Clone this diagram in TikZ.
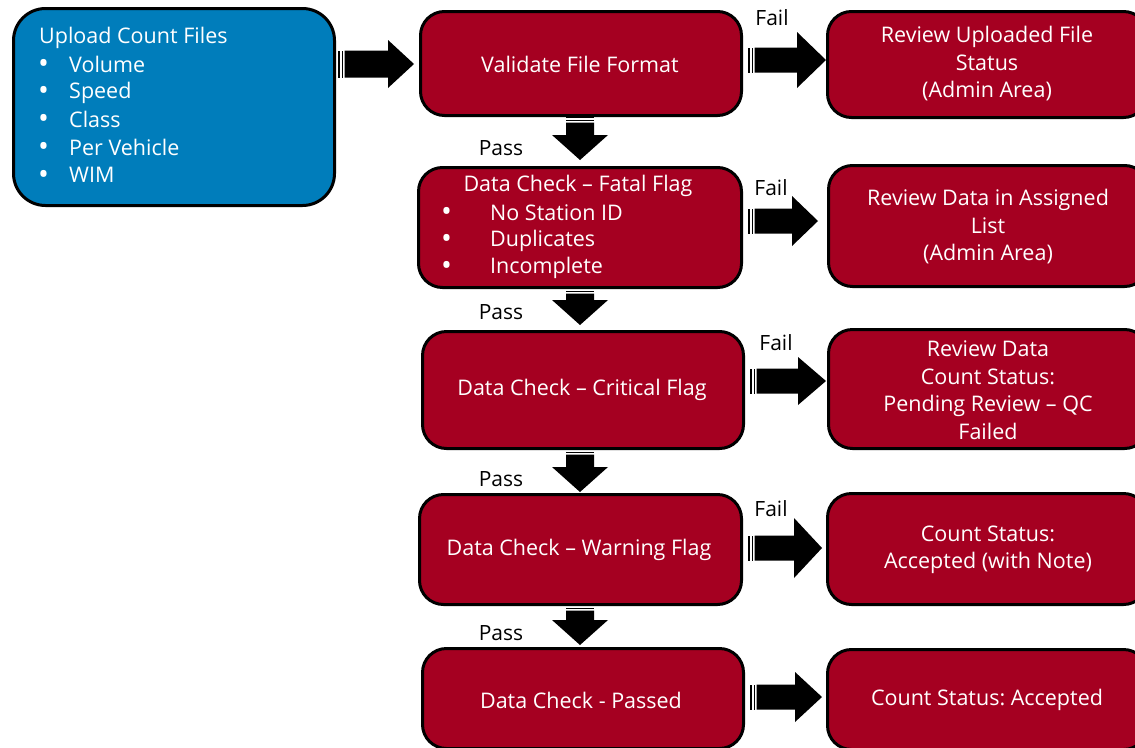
\documentclass[tikz,border=0pt]{standalone}
\usepackage{fontspec}
\setmainfont{Open Sans}
\frenchspacing
\begin{document}
\begin{tikzpicture}[x=1pt,y=-1pt,
  box/.style={draw=black,line width=3pt,rounded corners=24pt,fill=redbox,anchor=north west,inner sep=0pt},
  bluebox/.style={box,fill=bluebox,rounded corners=32pt},
  txt/.style={text=white,font=\fontsize{21.5}{27.5}\selectfont,align=center,inner sep=0pt},
  lbl/.style={text=black,font=\fontsize{21}{24}\selectfont,inner sep=0pt},
  arr/.style={fill=black,draw=none}]
\definecolor{redbox}{HTML}{A50021}
\definecolor{bluebox}{HTML}{007DBB}
\newcommand\bulitem[2]{\makebox[#1][l]{\raisebox{-1.5pt}{\fontsize{29}{29}\selectfont•}}#2}
\useasboundingbox (0,0) rectangle (1135,747);
\newcommand\rarr[6]{% x0 x1 yc shafthalf headhalf headlen
  \fill[arr] (#1,#3-#4) rectangle (#1+2,#3+#4);
  \fill[arr] (#1+3.5,#3-#4) rectangle (#1+5,#3+#4);
  \fill[arr] (#1+6.5,#3-#4) -- (#2-#6,#3-#4) -- (#2-#6,#3-#5) -- (#2,#3) -- (#2-#6,#3+#5) -- (#2-#6,#3+#4) -- (#1+6.5,#3+#4) -- cycle;}
\newcommand\darr[2]{% y0 y1, x center 580
  \fill[arr] (566,#1) rectangle (594,#1+2);
  \fill[arr] (566,#1+3.5) rectangle (594,#1+5);
  \fill[arr] (566,#1+6.5) -- (566,#2-25) -- (552,#2-25) -- (580,#2) -- (608,#2-25) -- (594,#2-25) -- (594,#1+6.5) -- cycle;}
% boxes
\node[bluebox,minimum width=321pt,minimum height=197pt] (up) at (12,7) {};
\node[box,minimum width=321pt,minimum height=104pt] (v) at (419,10) {};
\node[box,minimum width=320pt,minimum height=106pt] (rv) at (826,10) {};
\node[box,minimum width=323pt,minimum height=120pt] (f) at (417,166) {};
\node[box,minimum width=320pt,minimum height=121pt] (rf) at (827,164) {};
\node[box,minimum width=321pt,minimum height=117pt] (c) at (421,330) {};
\node[box,minimum width=320pt,minimum height=119pt] (rc) at (827,328) {};
\node[box,minimum width=322pt,minimum height=110pt] (w) at (418,493) {};
\node[box,minimum width=320pt,minimum height=111pt] (rw) at (826,492) {};
\node[box,minimum width=321pt,minimum height=100pt] (p) at (421,647) {};
\node[box,minimum width=320pt,minimum height=100pt] (rp) at (826,648) {};
% texts
\node[txt,anchor=west] (upt) at (39,38) {Upload Count Files};
\foreach \t/\yy [count=\i] in {Volume/65,Speed/93,Class/120,Per Vehicle/148,WIM/176}{
  \node[txt,anchor=west] (ut\i) at (38,\yy) {\bulitem{31pt}{\t}};}
\node[txt] (vt) at (580,64) {Validate File Format};
\node[txt] (rvt) at (987,64) {Review Uploaded File\\Status\\(Admin Area)};
\node[txt] (ft) at (578,186) {Data Check -- Fatal Flag};
\foreach \t/\yy [count=\i] in {No Station ID/213,Duplicates/241,Incomplete/268}{
  \node[txt,anchor=west] (ftt\i) at (441,\yy) {\bulitem{49pt}{\t}};}
\node[txt] (rft) at (988,227) {Review Data in Assigned\\List\\(Admin Area)};
\node[txt] (ct) at (582,390) {Data Check -- Critical Flag};
\node[txt] (rct) at (988,390) {Review Data\\Count Status:\\Pending Review -- QC\\Failed};
\node[txt] (wt) at (579,550) {Data Check -- Warning Flag};
\node[txt] (rwt) at (988,550) {Count Status:\\Accepted (with Note)};
\node[txt] (pt) at (581,700) {Data Check - Passed};
\node[txt] (rpt) at (987,700) {Count Status: Accepted};
% labels
\foreach \yy [count=\i] in {148,312,479,633}{\node[lbl] (pass\i) at (501,\yy) {Pass};}
\node[lbl] (fail1) at (772,18) {Fail};
\node[lbl] (fail2) at (771,188) {Fail};
\node[lbl] (fail3) at (776,343) {Fail};
\node[lbl] (fail4) at (771,509) {Fail};
% arrows
\rarr{338}{414}{64}{13.5}{24}{26}
\rarr{748}{826}{60}{12.5}{28}{29}
\rarr{748}{818}{221}{12.5}{25}{26}
\rarr{750}{826}{381}{12.5}{24}{28}
\rarr{748}{822}{548}{12.5}{30}{28}
\rarr{750}{822}{697}{12.5}{25}{27}
\darr{116}{160}
\darr{287}{325}
\darr{448}{492}
\darr{604}{645}
\end{tikzpicture}
\end{document}
